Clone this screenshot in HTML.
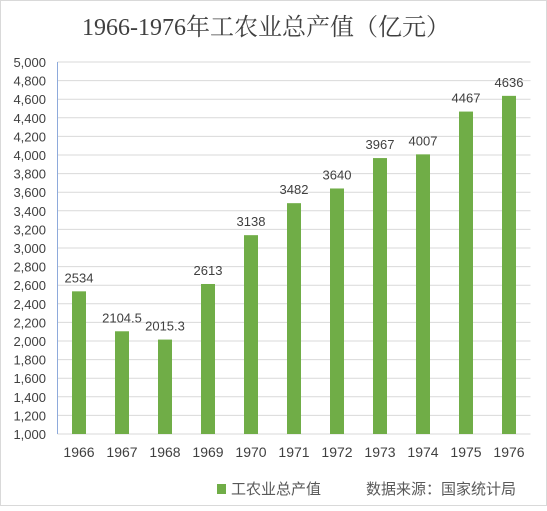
<!DOCTYPE html>
<html><head><meta charset="utf-8"><style>
body{margin:0;background:#fff;width:547px;height:506px;overflow:hidden;font-family:"Liberation Sans","Noto Sans CJK SC",sans-serif}
</style></head><body>
<svg id="c" width="547" height="506">
<rect x="0.5" y="0.5" width="546" height="505" fill="#fff" stroke="#d9d9d9"/>
<text x="266" y="35" text-anchor="middle" font-size="24" fill="#404040" font-family="'Liberation Serif','Noto Serif CJK SC',serif">1966-1976年工农业总产值（亿元）</text>
<g id="grid"></g><g id="bars"></g>
<line x1="57.5" y1="62" x2="57.5" y2="434" stroke="#8eaadb"/>
<rect x="217" y="484" width="9" height="10" fill="#70ad47"/>
<text x="231" y="494" font-size="15" fill="#595959">工农业总产值</text>
<text x="366" y="494" font-size="15" fill="#595959">数据来源：国家统计局</text>
</svg>
<script>
const categories=["1966","1967","1968","1969","1970","1971","1972","1973","1974","1975","1976"];
const values=[2534,2104.5,2015.3,2613,3138,3482,3640,3967,4007,4467,4636];
const labels=["2534","2104.5","2015.3","2613","3138","3482","3640","3967","4007","4467","4636"];
const ticks=[1000,1200,1400,1600,1800,2000,2200,2400,2600,2800,3000,3200,3400,3600,3800,4000,4200,4400,4600,4800,5000];
const NS="http://www.w3.org/2000/svg";
const x0=57.5,x1=530.5,yTop=62,yBot=434,vmin=1000,vmax=5000;
const y=v=>yBot-(v-vmin)/(vmax-vmin)*(yBot-yTop);
const bw=(x1-x0)/categories.length;
function mk(t,a,p){const e=document.createElementNS(NS,t);for(const k in a)e.setAttribute(k,a[k]);p.appendChild(e);return e;}
const g=document.getElementById('grid'),b=document.getElementById('bars');
ticks.forEach(t=>{
 const l=mk('line',{x1:x0,x2:x1,y1:y(t),y2:y(t),stroke:'#d9d9d9'},g);
 
 
 const tx=mk('text',{x:46,y:y(t)+5,'text-anchor':'end','font-size':13,fill:'#404040'},g);
 tx.textContent=t.toLocaleString('en-US');
 
 
});
categories.forEach((c,i)=>{
 const cx=x0+bw*(i+0.5);
 const r=mk('rect',{x:cx-7,y:y(values[i]),width:14,height:yBot-y(values[i]),fill:'#70ad47'},b);
 
 
 const lt=mk('text',{x:cx,y:y(values[i])-9,'text-anchor':'middle','font-size':13,fill:'#404040'},b);
 lt.textContent=labels[i];
 
 
 const xt=mk('text',{x:cx,y:457,'text-anchor':'middle','font-size':14,fill:'#404040'},b);
 xt.textContent=c;
 
 
});
</script>
</body></html>
